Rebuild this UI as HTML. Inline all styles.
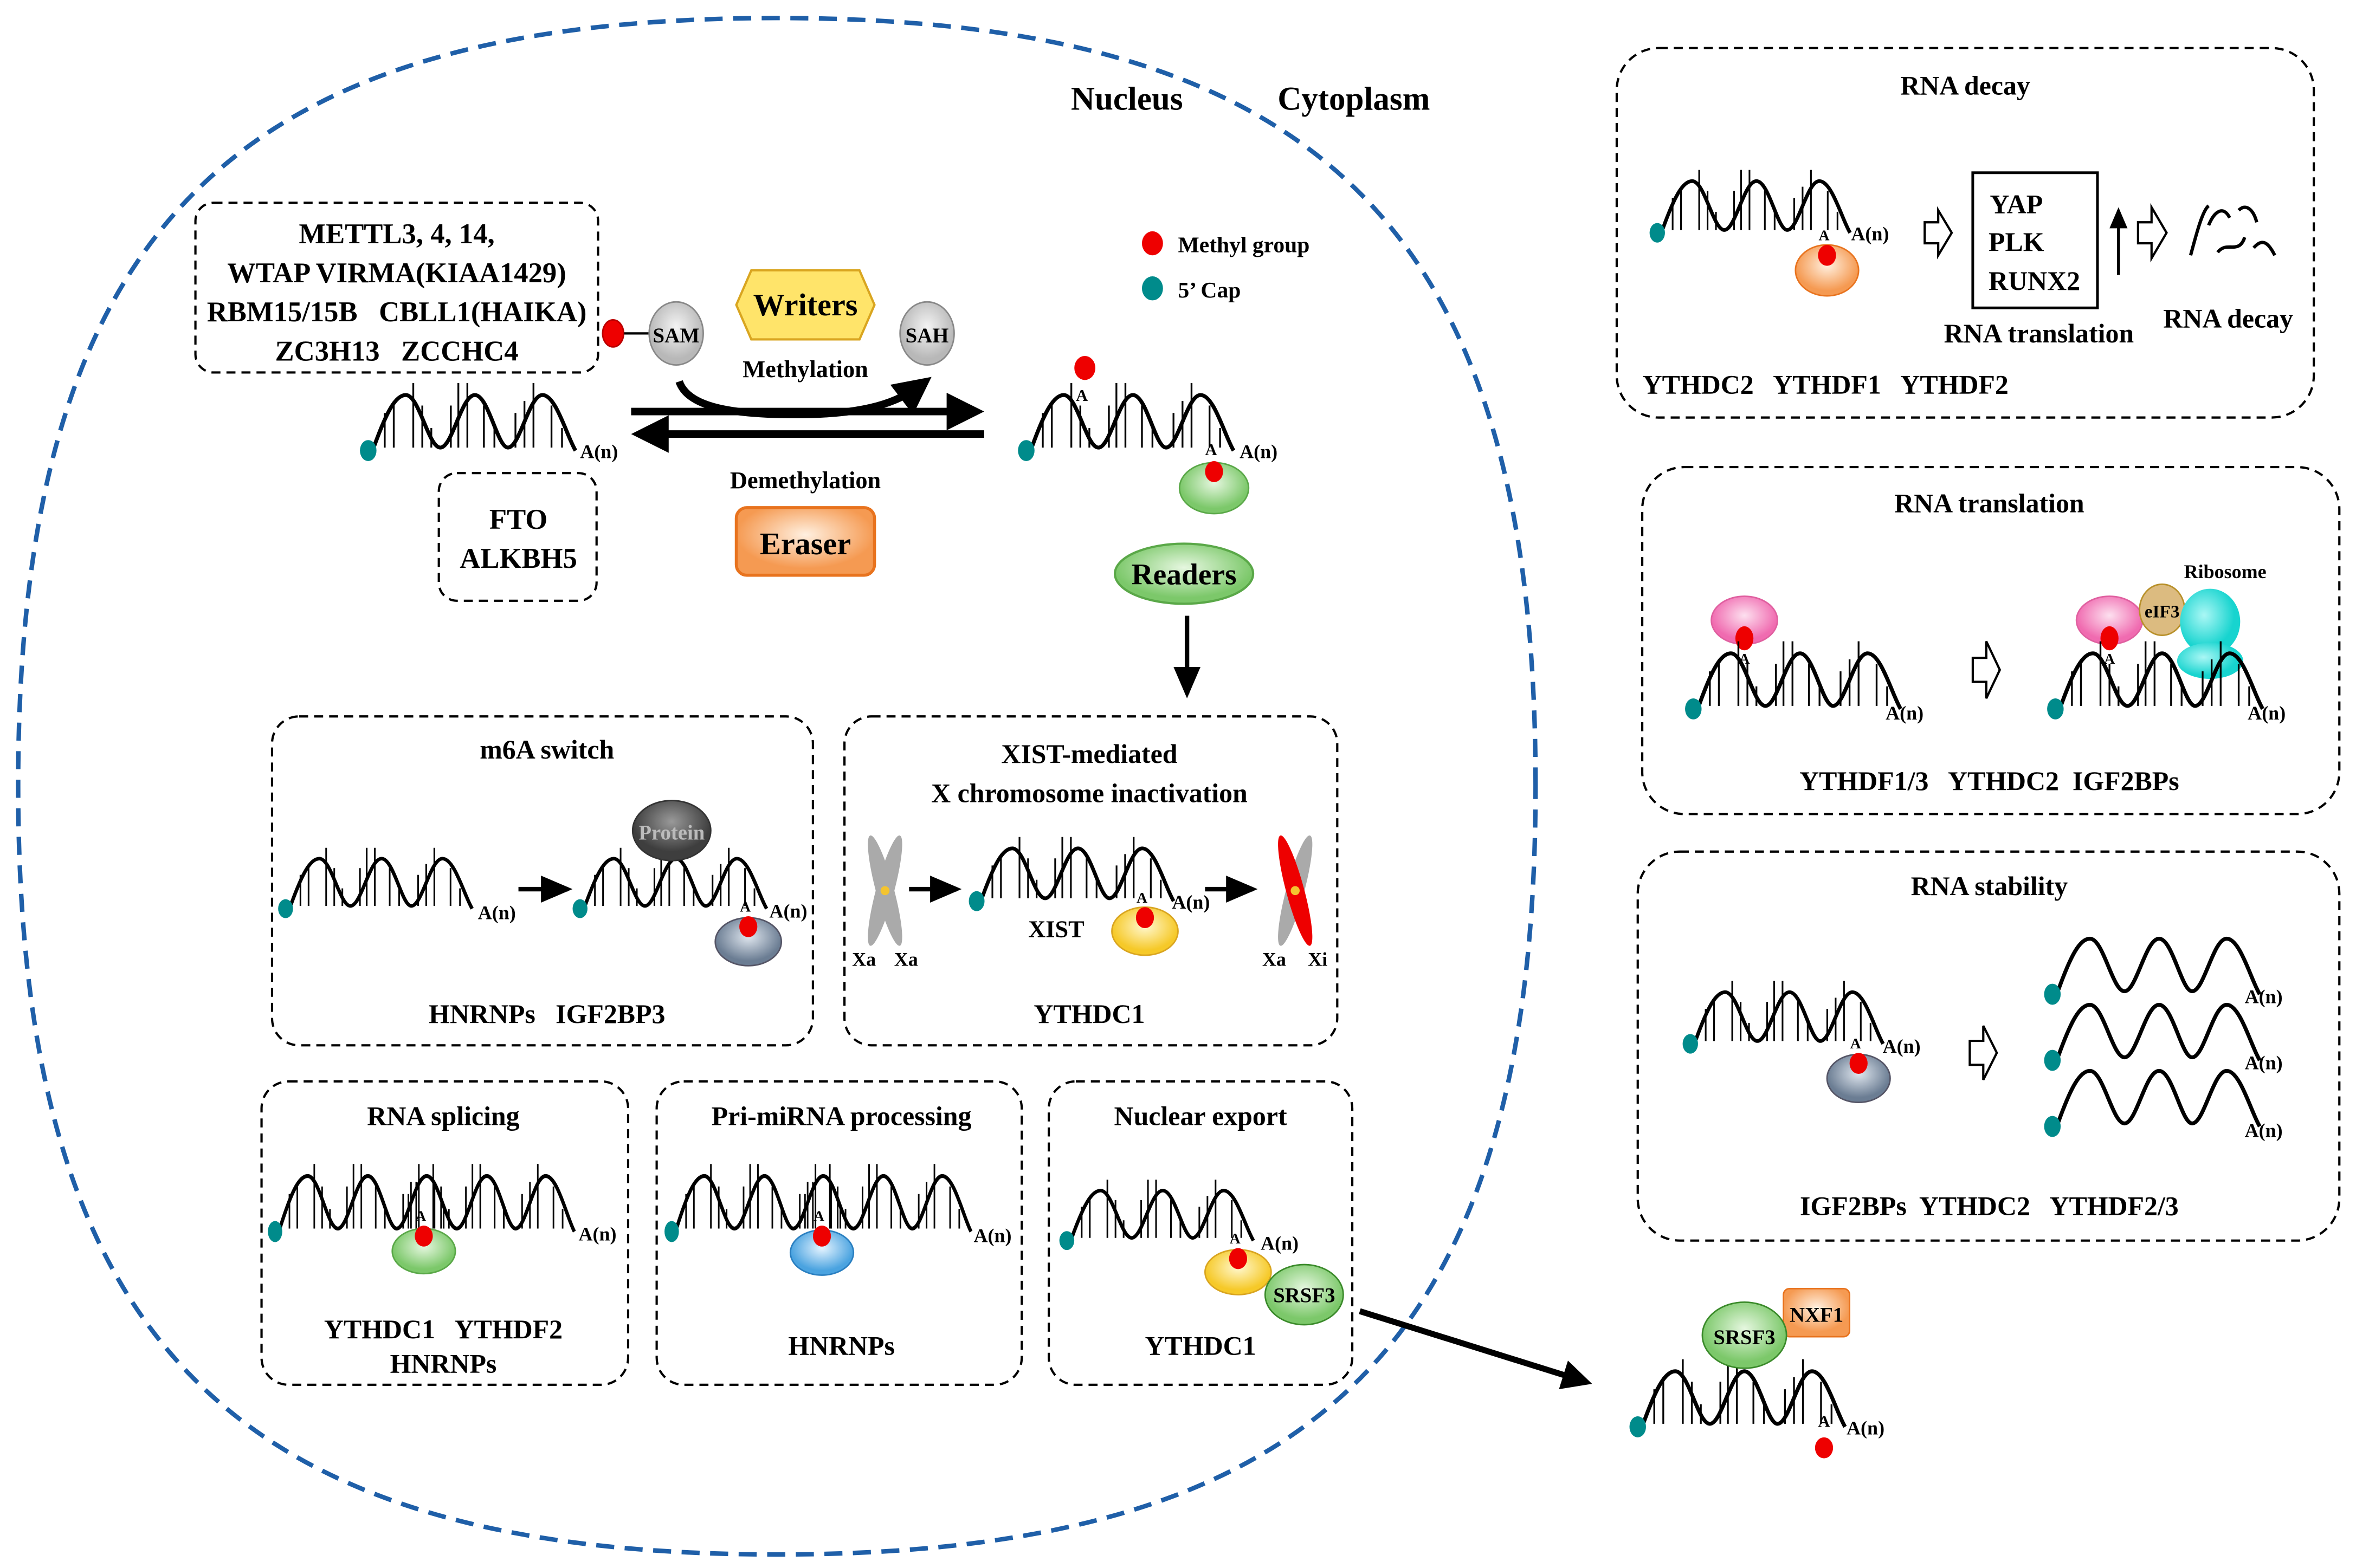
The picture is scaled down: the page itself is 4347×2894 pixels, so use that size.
<!DOCTYPE html>
<html><head><meta charset="utf-8"><style>
html,body{margin:0;padding:0;background:#fff}
svg{display:block}
text{font-family:"Liberation Serif",serif;font-weight:bold;fill:#000;white-space:pre}
</style></head><body>
<svg width="4347" height="2894" viewBox="0 0 1568 1044" xmlns="http://www.w3.org/2000/svg" xml:space="preserve">
<defs>
<g id="ticks3" stroke="#000" stroke-width="1.2">
<line x1="11" y1="-2" x2="11" y2="-25"/><line x1="17" y1="-2" x2="17" y2="-33"/><line x1="30" y1="-2" x2="30" y2="-45"/><line x1="36" y1="-2" x2="36" y2="-30"/><line x1="42" y1="-2" x2="42" y2="-15"/><line x1="55" y1="-2" x2="55" y2="-30"/><line x1="60" y1="-2" x2="60" y2="-45"/><line x1="66" y1="-2" x2="66" y2="-45"/><line x1="77" y1="-2" x2="77" y2="-30"/><line x1="84" y1="-2" x2="84" y2="-15"/><line x1="98" y1="-2" x2="98" y2="-25"/><line x1="104" y1="-2" x2="104" y2="-33"/><line x1="110" y1="-2" x2="110" y2="-45"/><line x1="122" y1="-2" x2="122" y2="-30"/><line x1="129" y1="-2" x2="129" y2="-15"/>
</g>
<g id="wave"><path d="M4,-3 C12,-25 18,-37 25,-37 C34,-37 40,-2 48,-2 C56,-2 62,-37 71,-37 C80,-37 86,-2 93,-2 C101,-2 107,-37 116,-37 C125,-37 132,-10 138,0" fill="none" stroke="#000" stroke-width="2.6"/><ellipse cx="0" cy="0" rx="5.5" ry="7" fill="#008b8b"/></g>
<g id="rna"><use href="#ticks3"/><use href="#wave"/></g>
<g id="rna5"><use href="#ticks3"/><use href="#ticks3" transform="translate(91,0)"/>
<path d="M4,-3 C12,-25 18,-37 25,-37 C34,-37 40,-2 48,-2 C56,-2 62,-37 71,-37 C80,-37 86,-2 93,-2 C101,-2 107,-37 116,-37 C125,-37 131,-2 139,-2 C147,-2 153,-37 162,-37 C171,-37 177,-2 184,-2 C192,-2 198,-37 207,-37 C216,-37 223,-10 229,0" fill="none" stroke="#000" stroke-width="2.6"/><ellipse cx="0" cy="0" rx="5.5" ry="7" fill="#008b8b"/></g>
<marker id="ah" markerWidth="8" markerHeight="8" refX="6" refY="4" orient="auto" markerUnits="strokeWidth"><path d="M0,1 L7,4 L0,7 Z" fill="#000"/></marker>
<marker id="ah2" markerWidth="5" markerHeight="5" refX="3" refY="2.5" orient="auto" markerUnits="strokeWidth"><path d="M0,0 L5,2.5 L0,5 Z" fill="#000"/></marker>
<radialGradient id="gG" cx="50%" cy="40%"><stop offset="0" stop-color="#e6f7e0"/><stop offset="1" stop-color="#7cc86a"/></radialGradient>
<radialGradient id="gS" cx="50%" cy="40%"><stop offset="0" stop-color="#dfe6ee"/><stop offset="1" stop-color="#6b7d93"/></radialGradient>
<radialGradient id="gY" cx="50%" cy="40%"><stop offset="0" stop-color="#fff8d0"/><stop offset="1" stop-color="#f6c928"/></radialGradient>
<radialGradient id="gB" cx="50%" cy="40%"><stop offset="0" stop-color="#e6f4ff"/><stop offset="1" stop-color="#4aa3e0"/></radialGradient>
<radialGradient id="gO" cx="50%" cy="40%"><stop offset="0" stop-color="#fff0e0"/><stop offset="1" stop-color="#f59a52"/></radialGradient>
<radialGradient id="gP" cx="50%" cy="40%"><stop offset="0" stop-color="#fde0ef"/><stop offset="1" stop-color="#f06bb0"/></radialGradient>
<radialGradient id="gC" cx="40%" cy="40%"><stop offset="0" stop-color="#aaf7f5"/><stop offset="1" stop-color="#17d4cf"/></radialGradient>
<radialGradient id="gGr" cx="50%" cy="40%"><stop offset="0" stop-color="#f4f4f4"/><stop offset="1" stop-color="#b8b8b8"/></radialGradient>
<radialGradient id="gDk" cx="50%" cy="35%"><stop offset="0" stop-color="#999"/><stop offset="1" stop-color="#3e3e3e"/></radialGradient>
</defs>

<!-- nucleus -->
<path d="M1022,523 C1022,155 881,12 517,12 C153,12 12,155 12,523 C12,891 153,1035 517,1035 C881,1035 1022,891 1022,523Z" fill="none" stroke="#1f5fa8" stroke-width="3" stroke-dasharray="12,7"/>
<text x="750" y="73" font-size="22" text-anchor="middle">Nucleus</text>
<text x="901" y="73" font-size="22" text-anchor="middle">Cytoplasm</text>

<!-- legend -->
<ellipse cx="767" cy="162" rx="7" ry="8" fill="#e00"/><text x="784" y="168" font-size="15">Methyl group</text>
<ellipse cx="767" cy="192" rx="7" ry="8" fill="#008b8b"/><text x="784" y="198" font-size="15">5’ Cap</text>

<!-- writers box -->
<rect x="130" y="135" width="268" height="113" rx="12" fill="none" stroke="#000" stroke-width="1.5" stroke-dasharray="6,4"/>
<text x="264" y="162" font-size="19" text-anchor="middle">METTL3, 4, 14,</text>
<text x="264" y="188" font-size="19" text-anchor="middle">WTAP VIRMA(KIAA1429)</text>
<text x="264" y="214" font-size="19" text-anchor="middle">RBM15/15B   CBLL1(HAIKA)</text>
<text x="264" y="240" font-size="19" text-anchor="middle">ZC3H13   ZCCHC4</text>
<line x1="408" y1="222" x2="432" y2="222" stroke="#000" stroke-width="1.5"/>
<ellipse cx="408" cy="222" rx="7" ry="9" fill="#e00" stroke="#b00"/>
<ellipse cx="450" cy="222" rx="18" ry="21" fill="url(#gGr)" stroke="#888"/>
<text x="450" y="228" font-size="14" text-anchor="middle">SAM</text>
<polygon points="500,180 572,180 582,203 572,226 500,226 490,203" fill="#ffe46a" stroke="#d9a520" stroke-width="1.5"/>
<text x="536" y="210" font-size="21" text-anchor="middle">Writers</text>
<ellipse cx="617" cy="222" rx="18" ry="21" fill="url(#gGr)" stroke="#888"/>
<text x="617" y="228" font-size="14" text-anchor="middle">SAH</text>
<text x="536" y="251" font-size="16" text-anchor="middle">Methylation</text>
<path d="M452,254 C458,272 490,276 530,276 C570,276 595,270 612,257" fill="none" stroke="#000" stroke-width="5" marker-end="url(#ah2)"/>
<line x1="420" y1="274" x2="645" y2="274" stroke="#000" stroke-width="5" marker-end="url(#ah2)"/>
<line x1="655" y1="289" x2="430" y2="289" stroke="#000" stroke-width="5" marker-end="url(#ah2)"/>
<use href="#rna" x="245" y="300"/>
<text x="386" y="305" font-size="13">A(n)</text>
<rect x="292" y="315" width="105" height="85" rx="12" fill="none" stroke="#000" stroke-width="1.5" stroke-dasharray="6,4"/>
<text x="345" y="352" font-size="19" text-anchor="middle">FTO</text>
<text x="345" y="378" font-size="19" text-anchor="middle">ALKBH5</text>
<text x="536" y="325" font-size="16" text-anchor="middle">Demethylation</text>
<rect x="490" y="338" width="92" height="45" rx="7" fill="url(#gO)" stroke="#e8731e" stroke-width="2"/>
<text x="536" y="369" font-size="21" text-anchor="middle">Eraser</text>

<!-- methylated RNA -->
<use href="#rna" x="683" y="300"/>
<ellipse cx="722" cy="245" rx="7" ry="8" fill="#e00"/>
<text x="720" y="267" font-size="11" text-anchor="middle">A</text>
<ellipse cx="808" cy="325" rx="23" ry="17" fill="url(#gG)" stroke="#5aa848"/>
<ellipse cx="808" cy="314" rx="6" ry="7" fill="#e00"/>
<text x="806" y="303" font-size="11" text-anchor="middle">A</text>
<text x="825" y="305" font-size="13">A(n)</text>
<ellipse cx="788" cy="382" rx="46" ry="20" fill="url(#gG)" stroke="#5aa848" stroke-width="1.5"/>
<text x="788" y="389" font-size="20" text-anchor="middle">Readers</text>
<line x1="790" y1="410" x2="790" y2="462" stroke="#000" stroke-width="3" marker-end="url(#ah)"/>

<!-- m6A switch -->
<rect x="181" y="477" width="360" height="219" rx="18" fill="none" stroke="#000" stroke-width="1.5" stroke-dasharray="6,4"/>
<text x="364" y="505" font-size="18" text-anchor="middle">m6A switch</text>
<use href="#rna" transform="translate(190,605) scale(0.9)"/>
<text x="318" y="612" font-size="13">A(n)</text>
<line x1="345" y1="592" x2="378" y2="592" stroke="#000" stroke-width="3" marker-end="url(#ah)"/>
<use href="#rna" transform="translate(386,605) scale(0.9)"/>
<ellipse cx="447" cy="553" rx="26" ry="20" fill="url(#gDk)" stroke="#333"/>
<text x="447" y="559" font-size="14" text-anchor="middle" style="fill:#bbb">Protein</text>
<ellipse cx="498" cy="627" rx="22" ry="16" fill="url(#gS)" stroke="#556"/>
<ellipse cx="498" cy="617" rx="6" ry="7" fill="#e00"/>
<text x="496" y="607" font-size="10" text-anchor="middle">A</text>
<text x="512" y="611" font-size="13">A(n)</text>
<text x="364" y="681" font-size="18" text-anchor="middle">HNRNPs   IGF2BP3</text>

<!-- XIST -->
<rect x="562" y="477" width="328" height="219" rx="18" fill="none" stroke="#000" stroke-width="1.5" stroke-dasharray="6,4"/>
<text x="725" y="508" font-size="18" text-anchor="middle">XIST-mediated</text>
<text x="725" y="534" font-size="18" text-anchor="middle">X chromosome inactivation</text>
<g transform="translate(589,593)"><ellipse rx="6" ry="38" fill="#aaa" transform="rotate(15)"/><ellipse rx="6" ry="38" fill="#aaa" transform="rotate(-15)"/><circle r="3" fill="#f4c430"/></g>
<text x="575" y="643" font-size="13" text-anchor="middle">Xa</text><text x="603" y="643" font-size="13" text-anchor="middle">Xa</text>
<line x1="605" y1="592" x2="637" y2="592" stroke="#000" stroke-width="3" marker-end="url(#ah)"/>
<use href="#rna" transform="translate(650,600) scale(0.95)"/>
<text x="703" y="624" font-size="16" text-anchor="middle">XIST</text>
<ellipse cx="762" cy="620" rx="22" ry="16" fill="url(#gY)" stroke="#d9a520"/>
<ellipse cx="762" cy="611" rx="6" ry="7" fill="#e00"/>
<text x="760" y="601" font-size="10" text-anchor="middle">A</text>
<text x="780" y="605" font-size="13">A(n)</text>
<line x1="802" y1="592" x2="834" y2="592" stroke="#000" stroke-width="3" marker-end="url(#ah)"/>
<g transform="translate(862,593)"><ellipse rx="6" ry="38" fill="#aaa" transform="rotate(15)"/><ellipse rx="6" ry="38" fill="#e00" transform="rotate(-15)"/><circle r="3" fill="#f4c430"/></g>
<text x="848" y="643" font-size="13" text-anchor="middle">Xa</text><text x="877" y="643" font-size="13" text-anchor="middle">Xi</text>
<text x="725" y="681" font-size="18" text-anchor="middle">YTHDC1</text>

<!-- RNA splicing -->
<rect x="174" y="720" width="244" height="202" rx="18" fill="none" stroke="#000" stroke-width="1.5" stroke-dasharray="6,4"/>
<text x="295" y="749" font-size="18" text-anchor="middle">RNA splicing</text>
<use href="#rna5" transform="translate(183,820) scale(0.87,1)"/>
<ellipse cx="282" cy="833" rx="21" ry="15" fill="url(#gG)" stroke="#5aa848"/>
<ellipse cx="282" cy="823" rx="6" ry="7" fill="#e00"/>
<text x="280" y="813" font-size="10" text-anchor="middle">A</text>
<text x="385" y="826" font-size="13">A(n)</text>
<text x="295" y="891" font-size="18" text-anchor="middle">YTHDC1   YTHDF2</text>
<text x="295" y="914" font-size="18" text-anchor="middle">HNRNPs</text>

<!-- Pri-miRNA -->
<rect x="437" y="720" width="243" height="202" rx="18" fill="none" stroke="#000" stroke-width="1.5" stroke-dasharray="6,4"/>
<text x="560" y="749" font-size="18" text-anchor="middle">Pri-miRNA processing</text>
<use href="#rna5" transform="translate(447,820) scale(0.87,1)"/>
<ellipse cx="547" cy="834" rx="21" ry="15" fill="url(#gB)" stroke="#2a7fc0"/>
<ellipse cx="547" cy="823" rx="6" ry="7" fill="#e00"/>
<text x="545" y="813" font-size="10" text-anchor="middle">A</text>
<text x="648" y="827" font-size="13">A(n)</text>
<text x="560" y="902" font-size="18" text-anchor="middle">HNRNPs</text>

<!-- Nuclear export -->
<rect x="698" y="720" width="202" height="202" rx="18" fill="none" stroke="#000" stroke-width="1.5" stroke-dasharray="6,4"/>
<text x="799" y="749" font-size="18" text-anchor="middle">Nuclear export</text>
<use href="#rna" transform="translate(710,826) scale(0.9)"/>
<ellipse cx="824" cy="847" rx="22" ry="15" fill="url(#gY)" stroke="#d9a520"/>
<ellipse cx="824" cy="838" rx="6" ry="7" fill="#e00"/>
<text x="822" y="828" font-size="10" text-anchor="middle">A</text>
<text x="839" y="832" font-size="13">A(n)</text>
<ellipse cx="868" cy="862" rx="26" ry="20" fill="url(#gG)" stroke="#3a8a2a"/>
<text x="868" y="867" font-size="14" text-anchor="middle">SRSF3</text>
<text x="799" y="902" font-size="18" text-anchor="middle">YTHDC1</text>

<line x1="905" y1="873" x2="1052" y2="919" stroke="#000" stroke-width="4" marker-end="url(#ah2)"/>
<!-- exported -->
<use href="#rna" x="1090" y="950"/>
<text x="1214" y="950" font-size="11" text-anchor="middle">A</text>
<ellipse cx="1214" cy="964" rx="6" ry="7" fill="#e00"/>
<text x="1229" y="955" font-size="13">A(n)</text>
<rect x="1187" y="858" width="44" height="32" rx="4" fill="url(#gO)" stroke="#e8731e"/>
<text x="1209" y="880" font-size="14" text-anchor="middle">NXF1</text>
<ellipse cx="1161" cy="889" rx="28" ry="22" fill="url(#gG)" stroke="#3a8a2a"/>
<text x="1161" y="895" font-size="14" text-anchor="middle">SRSF3</text>

<!-- RNA decay -->
<rect x="1076" y="32" width="464" height="246" rx="28" fill="none" stroke="#000" stroke-width="1.5" stroke-dasharray="6,4"/>
<text x="1308" y="63" font-size="18" text-anchor="middle">RNA decay</text>
<use href="#rna" transform="translate(1103,155) scale(0.93)"/>
<ellipse cx="1216" cy="180" rx="21" ry="17" fill="url(#gO)" stroke="#e8731e"/>
<ellipse cx="1216" cy="170" rx="6" ry="7" fill="#e00"/>
<text x="1214" y="160" font-size="10" text-anchor="middle">A</text>
<text x="1232" y="160" font-size="13">A(n)</text>
<polygon points="1281,148 1290,148 1290,140 1299,155 1290,170 1290,162 1281,162" fill="#fff" stroke="#000" stroke-width="1.5"/>
<rect x="1313" y="115" width="83" height="90" fill="none" stroke="#000" stroke-width="1.8"/>
<text x="1342" y="142" font-size="18" text-anchor="middle">YAP</text>
<text x="1342" y="167" font-size="18" text-anchor="middle">PLK</text>
<text x="1354" y="193" font-size="18" text-anchor="middle">RUNX2</text>
<line x1="1410" y1="183" x2="1410" y2="140" stroke="#000" stroke-width="2" marker-end="url(#ah)"/>
<polygon points="1423,148 1432,148 1432,138 1442,155 1432,172 1432,162 1423,162" fill="#fff" stroke="#000" stroke-width="1.5"/>
<g fill="none" stroke="#000" stroke-width="2.2"><path d="M1458,170 C1462,155 1466,140 1470,137"/><path d="M1470,150 C1474,140 1480,137 1484,145"/><path d="M1476,168 C1482,160 1490,170 1494,158"/><path d="M1490,140 C1495,135 1500,140 1502,148"/><path d="M1500,165 C1506,158 1510,162 1514,170"/></g>
<text x="1357" y="228" font-size="18" text-anchor="middle">RNA translation</text>
<text x="1483" y="218" font-size="18" text-anchor="middle">RNA decay</text>
<text x="1215" y="262" font-size="18" text-anchor="middle">YTHDC2   YTHDF1   YTHDF2</text>

<!-- RNA translation -->
<rect x="1093" y="311" width="464" height="231" rx="28" fill="none" stroke="#000" stroke-width="1.5" stroke-dasharray="6,4"/>
<text x="1324" y="341" font-size="18" text-anchor="middle">RNA translation</text>
<ellipse cx="1161" cy="413" rx="22" ry="16" fill="url(#gP)" stroke="#e060a0"/>
<ellipse cx="1161" cy="425" rx="6" ry="8" fill="#e00"/>
<text x="1161" y="442" font-size="10" text-anchor="middle">A</text>
<use href="#rna" x="1127" y="472"/>
<text x="1255" y="479" font-size="13">A(n)</text>
<polygon points="1313,438 1322,438 1322,427 1331,446 1322,465 1322,454 1313,454" fill="#fff" stroke="#000" stroke-width="1.5"/>
<ellipse cx="1404" cy="413" rx="22" ry="16" fill="url(#gP)" stroke="#e060a0"/>
<ellipse cx="1404" cy="425" rx="6" ry="8" fill="#e00"/>
<text x="1404" y="442" font-size="10" text-anchor="middle">A</text>
<ellipse cx="1439" cy="406" rx="15" ry="17" fill="#dcbb80" stroke="#b8902a"/>
<text x="1439" y="411" font-size="12" text-anchor="middle">eIF3</text>
<ellipse cx="1471" cy="414" rx="20" ry="22" fill="url(#gC)"/>
<ellipse cx="1471" cy="440" rx="22" ry="12" fill="url(#gC)"/>
<use href="#rna" x="1368" y="472"/>
<text x="1496" y="479" font-size="13">A(n)</text>
<text x="1481" y="385" font-size="13" text-anchor="middle">Ribosome</text>
<text x="1324" y="526" font-size="18" text-anchor="middle">YTHDF1/3   YTHDC2  IGF2BPs</text>

<!-- RNA stability -->
<rect x="1090" y="567" width="467" height="259" rx="28" fill="none" stroke="#000" stroke-width="1.5" stroke-dasharray="6,4"/>
<text x="1324" y="596" font-size="18" text-anchor="middle">RNA stability</text>
<use href="#rna" transform="translate(1125,695) scale(0.93)"/>
<ellipse cx="1237" cy="718" rx="21" ry="16" fill="url(#gS)" stroke="#556"/>
<ellipse cx="1237" cy="708" rx="6" ry="7" fill="#e00"/>
<text x="1235" y="698" font-size="10" text-anchor="middle">A</text>
<text x="1253" y="701" font-size="13">A(n)</text>
<polygon points="1311,693 1320,693 1320,683 1329,701 1320,719 1320,709 1311,709" fill="#fff" stroke="#000" stroke-width="1.5"/>
<use href="#wave" x="1366" y="662"/><text x="1494" y="668" font-size="13">A(n)</text>
<use href="#wave" x="1366" y="706"/><text x="1494" y="712" font-size="13">A(n)</text>
<use href="#wave" x="1366" y="750"/><text x="1494" y="757" font-size="13">A(n)</text>
<text x="1324" y="809" font-size="18" text-anchor="middle">IGF2BPs  YTHDC2   YTHDF2/3</text>
</svg>
</body></html>
